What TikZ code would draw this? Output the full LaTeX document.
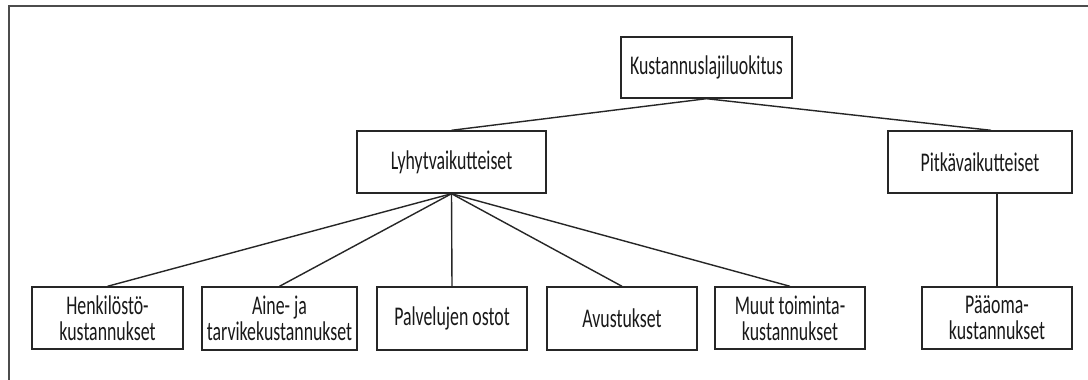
\documentclass[tikz,border=0pt]{standalone}
\usepackage{fontspec}
\setmainfont{Carlito}[FakeStretch=0.66]
\begin{document}
\begin{tikzpicture}[x=1pt,y=-1pt,
  box/.style={draw=black!85, line width=1.4pt, inner sep=0pt, align=center,
    font=\fontsize{27}{26}\selectfont, text=black!90},
  conn/.style={draw=black!85, line width=1.4pt},
  frame/.style={draw=black!70, line width=2pt}]
\useasboundingbox (0,0) rectangle (1088,380);
\fill[white] (0,0) rectangle (1088,380);
\draw[frame] (1088,6) -- (8.5,6) -- (8.5,380);

\node[box, minimum width=171pt, minimum height=61pt] (K) at (706.5,67.5) {Kustannuslajiluokitus};
\node[box, minimum width=189pt, minimum height=62pt] (L) at (451.5,162) {Lyhytvaikutteiset};
\node[box, minimum width=184pt, minimum height=62pt] (P) at (980,162) {Pitkävaikutteiset};

\node[box, minimum width=151pt, minimum height=62pt] (H) at (107.5,318) {Henkilöstö-\\kustannukset};
\node[box, minimum width=155pt, minimum height=63pt] (A) at (279.5,318.5) {Aine- ja\\tarvikekustannukset};
\node[box, minimum width=150pt, minimum height=63pt] (Pv) at (452,318.5) {Palvelujen ostot};
\node[box, minimum width=150pt, minimum height=63pt] (Av) at (622,318.5) {Avustukset};
\node[box, minimum width=150pt, minimum height=62pt] (M) at (790,318) {Muut toiminta-\\kustannukset};
\node[box, minimum width=150pt, minimum height=62pt] (Pa) at (997,318) {Pääoma-\\kustannukset};

\draw[conn] (K.south) -- (L.north);
\draw[conn] (K.south) -- ([xshift=11pt]P.north);
\draw[conn] (L.south) -- (H.north);
\draw[conn] (L.south) -- (A.north);
\draw[conn] (L.south) -- (Pv.north);
\draw[conn] (L.south) -- (Av.north);
\draw[conn] (L.south) -- (M.north);
\draw[conn] (P.south -| Pa.north) -- (Pa.north);
\end{tikzpicture}
\end{document}
